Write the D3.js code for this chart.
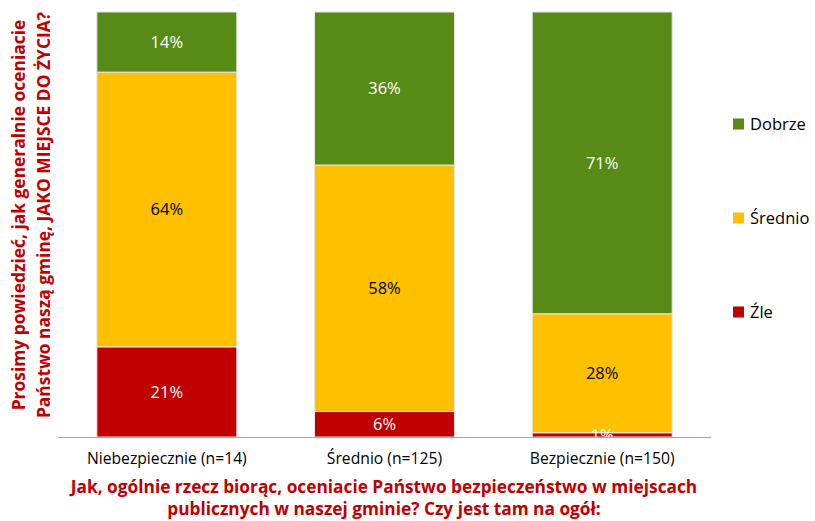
<!DOCTYPE html>
<html><head><meta charset="utf-8">
<script src="https://cdn.jsdelivr.net/npm/d3@7"></script>
<style>body{margin:0;background:#fff}svg{display:block;font-family:"Open Sans",sans-serif}</style>
</head><body><svg id="c" width="815" height="521"></svg>
<script>
const categories = ["Niebezpiecznie (n=14)", "Średnio (n=125)", "Bezpiecznie (n=150)"];
const seriesNames = ["Źle", "Średnio", "Dobrze"];
const zle = [21, 6, 1];
const srednio = [64, 58, 28];
const dobrze = [14, 36, 71];
const colors = ["#C00000", "#FFC000", "#578B15"];
const labelColors = ["#fff", "#000", "#fff"];
const yTitle = ["Prosimy powiedzieć, jak generalnie oceniacie", "Państwo naszą gminę, JAKO MIEJSCE DO ŻYCIA?"];
const xTitle = ["Jak, ogólnie rzecz biorąc, oceniacie Państwo bezpieczeństwo w miejscach", "publicznych w naszej gminie? Czy jest tam na ogół:"];

const rows = categories.map((c, i) => ({cat: c, "Źle": zle[i], "Średnio": srednio[i], "Dobrze": dobrze[i]}));
const stack = d3.stack().keys(seriesNames).offset(d3.stackOffsetExpand)(rows);

const svg = d3.select("#c");
const x = d3.scaleBand().domain(categories).range([58, 711]).paddingInner(0.357).paddingOuter(0.1785);
const y = d3.scaleLinear().domain([0, 1]).range([437, 12]);

const g = svg.append("g");
stack.forEach((s, si) => {
  const layer = g.append("g");
  layer.selectAll("rect").data(s).join("rect")
    .attr("x", d => x(d.data.cat)).attr("width", x.bandwidth())
    .attr("y", d => y(d[1])).attr("height", d => y(d[0]) - y(d[1]))
    .attr("fill", colors[si]).attr("stroke", "#e6e6e6").attr("stroke-width", 1);
});
// axis line
svg.append("g").attr("transform", "translate(0,437)")
  .call(d3.axisBottom(x).tickSize(0).tickPadding(16))
  .call(a => a.select(".domain").attr("stroke", "#a6a6a6").attr("d", "M58,0.5H711"))
  .call(a => a.selectAll("text").attr("font-size", 15.7).attr("fill", "#000").attr("font-family", "'Open Sans',sans-serif"));

// labels
svg.append("clipPath").attr("id", "pc").append("rect").attr("x", 0).attr("y", 0).attr("width", 815).attr("height", 437);
stack.forEach((s, si) => {
  svg.append("g").attr("clip-path", "url(#pc)").selectAll("text").data(s).join("text")
    .attr("x", d => x(d.data.cat) + x.bandwidth() / 2)
    .attr("y", d => (y(d[0]) + y(d[1])) / 2)
    .attr("dy", "0.35em").attr("text-anchor", "middle")
    .attr("font-size", 16.5).attr("fill", labelColors[si])
    .text((d, i) => [zle, srednio, dobrze][si][i] + "%");
});

// legend
const legY = [312, 218, 124];
seriesNames.forEach((n, i) => {
  svg.append("rect").attr("x", 733).attr("y", legY[i] - 5.5).attr("width", 11).attr("height", 11).attr("fill", colors[i]);
  svg.append("text").attr("x", 750).attr("y", legY[i]).attr("dy", "0.35em").attr("font-size", 16.5).attr("fill", "#000").text(n);
});

// y title
const yt = svg.append("text").attr("transform", "translate(0,215) rotate(-90)").attr("text-anchor", "middle")
  .attr("font-size", 17.4).attr("font-weight", "bold").attr("fill", "#C00000");
yTitle.forEach((t, i) => yt.append("tspan").attr("x", 0).attr("y", 25 + i * 25).text(t));

// x title
xTitle.forEach((t, i) => svg.append("text").attr("x", 384).attr("y", 493 + i * 22).attr("text-anchor", "middle")
  .attr("font-size", 17.3).attr("font-weight", "bold").attr("fill", "#C00000").text(t));
</script></body></html>
